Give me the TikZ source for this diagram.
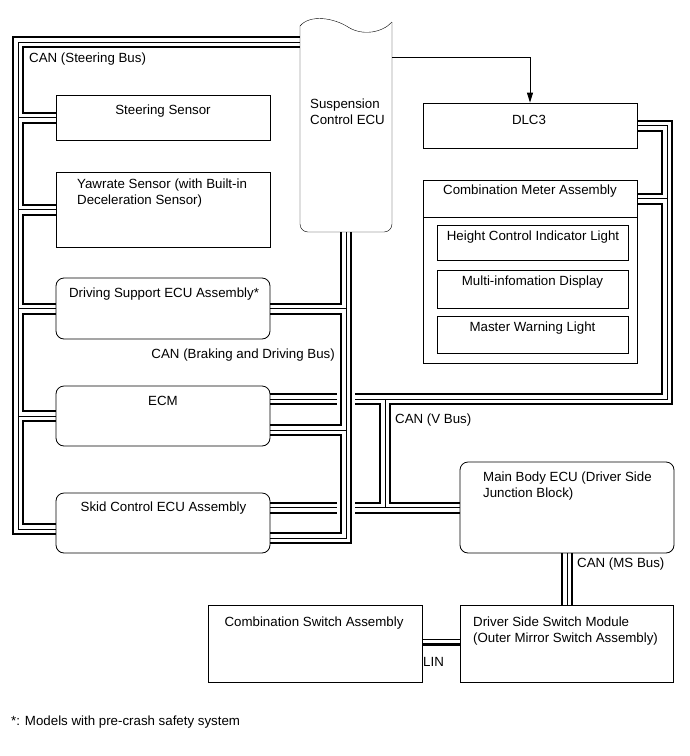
\documentclass[tikz,border=0pt]{standalone}
\usepackage{fontspec}
\setmainfont{Liberation Sans}
\usepackage{tikz}
\usetikzlibrary{arrows.meta,backgrounds}

\tikzset{
  box/.style={draw, line width=0.8pt, inner sep=0pt},
  rbox/.style={box, rounded corners=8pt},
  txt/.style={inner sep=0pt, font=\fontsize{13.3}{16}\selectfont},
  canbus/.style={line width=12pt, postaction={draw, white, line width=8pt}, postaction={draw, black, line width=0.7pt}},
  linthin/.style={line width=0.8pt},
  linthick/.style={line width=3pt},
  arr/.style={line width=0.8pt, -{Triangle[length=10pt,width=6pt]}},
}

\begin{document}
\begin{tikzpicture}[x=1pt,y=-1pt]
\useasboundingbox (0,0) rectangle (690,756);

%Shape: Suspension Control ECU
\node [inner sep=0pt, minimum width=92pt, minimum height=210pt] (susp) at (346,127) {};
\draw (300,26) .. controls (310,14) and (334,18) .. (348,27) .. controls (362,36) and (382,33) .. (392,22) ;
\draw [rounded corners=8pt] (392,22) -- (392,232) -- (300,232) -- (300,26) ;

%Shape: Rectangle
\node [box, minimum width=214pt, minimum height=45pt] (steer) at (163,117.5) {};
%Shape: Rectangle
\node [box, minimum width=214pt, minimum height=75pt] (yaw) at (163,209.5) {};
%Shape: Rounded Rect
\node [rbox, minimum width=214pt, minimum height=61pt] (dss) at (163,308.5) {};
%Shape: Rounded Rect
\node [rbox, minimum width=214pt, minimum height=60pt] (ecm) at (163,416) {};
%Shape: Rounded Rect
\node [rbox, minimum width=214pt, minimum height=60pt] (skid) at (163,523) {};
%Shape: Rectangle
\node [box, minimum width=214pt, minimum height=45pt] (dlc) at (530,125.5) {};
%Shape: Rectangle
\node [box, minimum width=214pt, minimum height=37pt] (cmhead) at (530,198.5) {};
%Shape: Rectangle
\node [box, minimum width=214pt, minimum height=146pt] (cmbody) at (530,290) {};
%Shape: Rectangle
\node [box, minimum width=191pt, minimum height=35pt] (hci) at (532.5,242.5) {};
%Shape: Rectangle
\node [box, minimum width=191pt, minimum height=38pt] (mid) at (532.5,289) {};
%Shape: Rectangle
\node [box, minimum width=191pt, minimum height=37pt] (mwl) at (532.5,334.5) {};
%Shape: Rounded Rect
\node [rbox, minimum width=214pt, minimum height=91pt] (mbe) at (567,507.5) {};
%Shape: Rectangle
\node [box, minimum width=214pt, minimum height=77pt] (csa) at (315,643.5) {};
%Shape: Rectangle
\node [box, minimum width=213pt, minimum height=77pt] (dsm) at (566.5,643.5) {};

%Bus corners
\coordinate (tl) at (18,42);
\coordinate (bl) at (18,529);
\coordinate (brb) at (346,538);
\coordinate (ecmlo) at (270,430);
\coordinate (vl) at (385,399);
\coordinate (vr) at (667,399);

\begin{pgfonlayer}{background}
%CAN (Steering Bus)
\draw [canbus] (tl -| susp.west) -- (tl) -- (bl) -- (bl -| skid.west)
  (tl |- steer.west) -- (steer.west)
  (tl |- yaw.west) -- (yaw.west)
  (tl |- dss.west) -- (dss.west)
  (tl |- ecm.west) -- (ecm.west) ;
%CAN (V Bus)
\draw [canbus] (vl -| ecm.east) -- (vr) -- (vr |- dlc.east) -- (dlc.east)
  (vr |- cmhead.east) -- (cmhead.east)
  (vl) -- (vl |- mbe.west)
  (mbe.west -| skid.east) -- (mbe.west) ;
%crossing gap
\draw [white, line width=18pt] (susp.south |- ecm.north) -- (susp.south |- skid.center) ;
%CAN (Braking and Driving Bus)
\draw [canbus] (susp.south) -- (brb) -- (brb -| skid.east)
  (susp.south |- dss.east) -- (dss.east)
  (susp.south |- ecmlo) -- (ecmlo) ;
%CAN (MS Bus)
\draw [canbus] (mbe.south) -- (mbe.south |- dsm.north) ;
%LIN
\draw [linthin] ([yshift=4.5pt]csa.east) -- ([yshift=4.5pt]dsm.west) ;
\draw [linthick] ([yshift=-1pt]csa.east) -- ([yshift=-1pt]dsm.west) ;
\end{pgfonlayer}

%Straight Lines
\draw [arr] ([yshift=70pt]susp.east) -| (dlc.north) ;

% Text Node
\node [txt, anchor=north west] (canst) at (29,53) {CAN (Steering Bus)};
% Text Node
\node [txt, anchor=north] (steertxt) at (163,105) {Steering Sensor};
% Text Node
\node [txt, anchor=north west, align=left] (yawtxt) at (77,179) {Yawrate Sensor (with Built-in\\Deceleration Sensor)};
% Text Node
\node [txt, anchor=north west, align=left] (susptxt) at (310,99) {Suspension\\Control ECU};
% Text Node
\node [txt, anchor=north] (dsstxt) at (164,288) {Driving Support ECU Assembly*};
% Text Node
\node [txt, anchor=north east] (canbd) at (335,349) {CAN (Braking and Driving Bus)};
% Text Node
\node [txt, anchor=north] (ecmtxt) at (163,396) {ECM};
% Text Node
\node [txt, anchor=north] (skidtxt) at (163.5,502) {Skid Control ECU Assembly};
% Text Node
\node [txt, anchor=north] (dlctxt) at (529,115) {DLC3};
% Text Node
\node [txt, anchor=north] (cmtxt) at (530,185) {Combination Meter Assembly};
% Text Node
\node [txt, anchor=north] (hcitxt) at (533,231) {Height Control Indicator Light};
% Text Node
\node [txt, anchor=north] (midtxt) at (532.5,276) {Multi-infomation Display};
% Text Node
\node [txt, anchor=north] (mwltxt) at (532.5,322) {Master Warning Light};
% Text Node
\node [txt, anchor=north west] (canv) at (395,414) {CAN (V Bus)};
% Text Node
\node [txt, anchor=north west, align=left] (mbetxt) at (483,472) {Main Body ECU (Driver Side\\Junction Block)};
% Text Node
\node [txt, anchor=north west] (canms) at (577,558) {CAN (MS Bus)};
% Text Node
\node [txt, anchor=north] (csatxt) at (314,617) {Combination Switch Assembly};
% Text Node
\node [txt, anchor=north west, align=left] (dsmtxt) at (473,617) {Driver Side Switch Module\\(Outer Mirror Switch Assembly)};
% Text Node
\node [txt, anchor=north west] (lintxt) at (423,657) {LIN};
% Text Node
\node [txt, anchor=north west] (note) at (11,716) {*: Models with pre-crash safety system};

\end{tikzpicture}
\end{document}
